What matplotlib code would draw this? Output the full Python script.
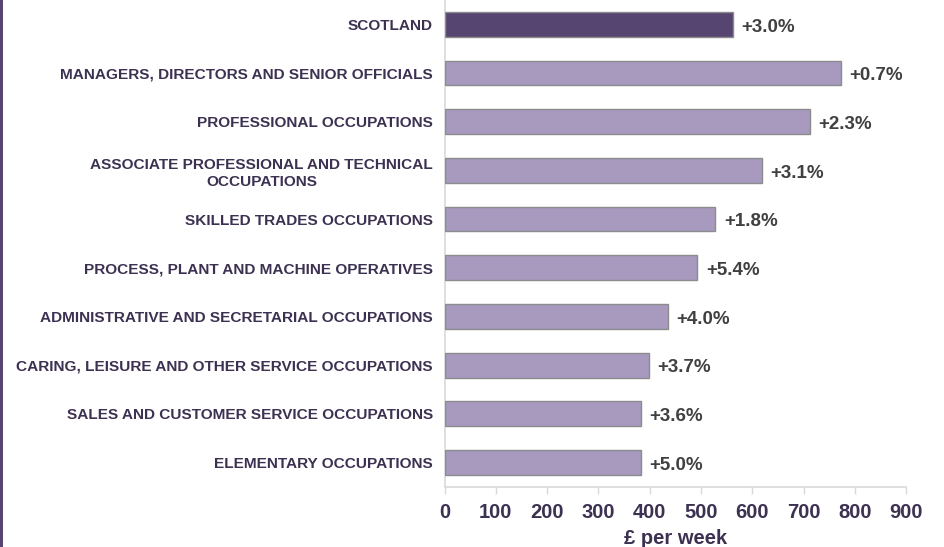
import matplotlib
matplotlib.use("Agg")
import matplotlib.pyplot as plt
from matplotlib.patches import Rectangle

plt.rcParams['font.family'] = ['Liberation Sans', 'DejaVu Sans']

categories = [
    "SCOTLAND",
    "MANAGERS, DIRECTORS AND SENIOR OFFICIALS",
    "PROFESSIONAL OCCUPATIONS",
    "ASSOCIATE PROFESSIONAL AND TECHNICAL\nOCCUPATIONS",
    "SKILLED TRADES OCCUPATIONS",
    "PROCESS, PLANT AND MACHINE OPERATIVES",
    "ADMINISTRATIVE AND SECRETARIAL OCCUPATIONS",
    "CARING, LEISURE AND OTHER SERVICE OCCUPATIONS",
    "SALES AND CUSTOMER SERVICE OCCUPATIONS",
    "ELEMENTARY OCCUPATIONS",
]
weekly_pay = [563, 773, 712, 618, 528, 493, 435, 399, 383, 382]
annual_change = ["+3.0%", "+0.7%", "+2.3%", "+3.1%", "+1.8%",
                 "+5.4%", "+4.0%", "+3.7%", "+3.6%", "+5.0%"]
x_ticks = [0, 100, 200, 300, 400, 500, 600, 700, 800, 900]
x_label = "£ per week"

DARK = "#574571"
LIGHT = "#a899bf"
TEXT = "#3d3152"
VALUE_TEXT = "#404040"
AXIS_GREY = "#d9d9d9"

fig = plt.figure(figsize=(9.44, 5.47), dpi=100)
ax = fig.add_axes([0.471, 0.110, 0.489, 0.890])

positions = list(range(len(categories)))
colors = [DARK] + [LIGHT] * (len(categories) - 1)
bars = ax.barh(positions, weekly_pay, height=0.51, color=colors,
               edgecolor="#8c8c8c", linewidth=1.0, zorder=3)

for bar, txt in zip(bars, annual_change):
    ax.annotate(txt, xy=(bar.get_width(), bar.get_y() + bar.get_height() / 2),
                xytext=(6, -2), textcoords="offset points",
                ha="left", va="center", fontsize=13.5, fontweight="bold",
                color=VALUE_TEXT)

ax.set_ylim(len(categories) - 0.5, -0.5)
ax.set_xlim(0, 900)
ax.set_yticks(positions)
ax.set_yticklabels(categories, fontsize=11.1, fontweight="bold", color=TEXT,
                   multialignment="center", linespacing=1.3)
ax.tick_params(axis="y", length=0, pad=8.5)

ax.set_xticks(x_ticks)
ax.set_xticklabels([str(t) for t in x_ticks], fontsize=14.5, fontweight="bold",
                   color=TEXT)
ax.tick_params(axis="x", length=5, width=1, color=AXIS_GREY, pad=7)
ax.set_xlabel(x_label, fontsize=14.5, fontweight="bold", color=TEXT, labelpad=5)

for side in ("top", "right"):
    ax.spines[side].set_visible(False)
for side in ("left", "bottom"):
    ax.spines[side].set_color(AXIS_GREY)
    ax.spines[side].set_linewidth(1.2)

# thin purple rule along the left edge of the figure
fig.add_artist(Rectangle((0, 0), 2.5 / 944, 1, transform=fig.transFigure,
                         facecolor=DARK, edgecolor="none"))

fig.savefig("out.png", dpi=100)
